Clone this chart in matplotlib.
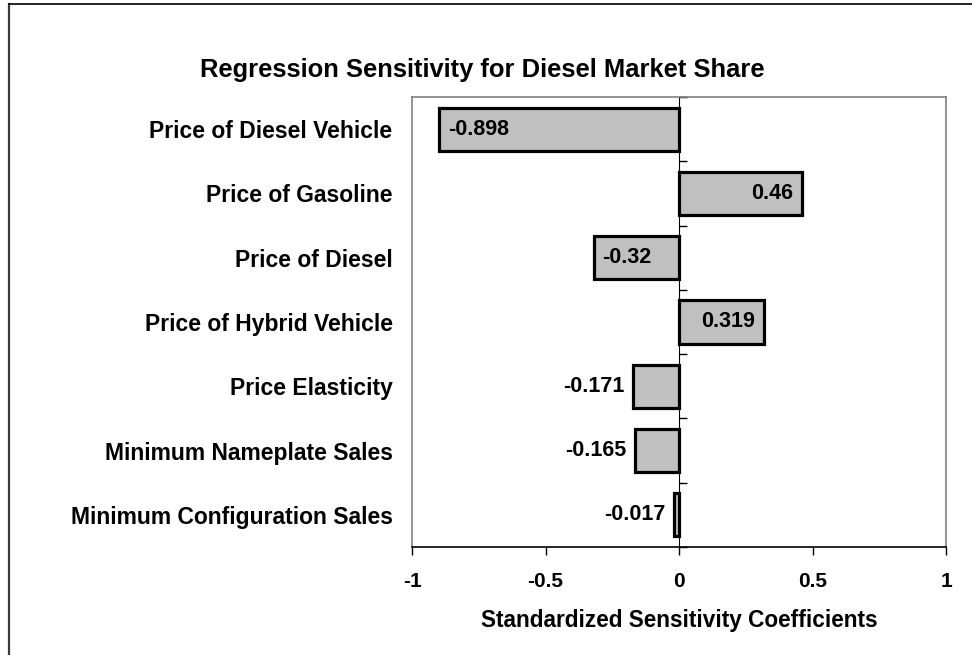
"""
Regression Sensitivity for Diesel Market Share - horizontal bar chart
"""

import matplotlib
matplotlib.use('Agg')
import matplotlib.pyplot as plt
import numpy as np
from matplotlib.lines import Line2D

# --- data ---
categories = [
    'Price of Diesel Vehicle',
    'Price of Gasoline',
    'Price of Diesel',
    'Price of Hybrid Vehicle',
    'Price Elasticity',
    'Minimum Nameplate Sales',
    'Minimum Configuration Sales',
]
coefficients = [-0.898, 0.46, -0.32, 0.319, -0.171, -0.165, -0.017]
value_labels = ['-0.898', '0.46', '-0.32', '0.319', '-0.171', '-0.165', '-0.017']
x_ticks = [-1, -0.5, 0, 0.5, 1]
x_tick_labels = ['-1', '-0.5', '0', '0.5', '1']

# --- style ---
BAR_FILL = '#C0C0C0'
FRAME = '#808080'
FONT = 'Liberation Sans'

plt.rcParams['font.family'] = [FONT, 'DejaVu Sans']
plt.rcParams['font.weight'] = 'bold'

W, H = 972, 655
fig = plt.figure(figsize=(W / 100, H / 100), dpi=100)
ax = fig.add_axes([412 / W, 1 - 547 / H, (946 - 412) / W, (547 - 97) / H])

y = np.arange(len(categories))
bars = ax.barh(y, coefficients, height=0.67, color=BAR_FILL,
               edgecolor='black', linewidth=2.3, zorder=3)

ax.set_xlim(-1, 1)
ax.set_ylim(len(categories) - 0.5, -0.5)

# x axis
ax.set_xticks(x_ticks)
ax.set_xticklabels(x_tick_labels, fontsize=15, fontweight='bold')
ax.tick_params(axis='x', direction='out', length=6, width=1, color='black', pad=12)
ax.set_xlabel('Standardized Sensitivity Coefficients', fontsize=16.3,
              fontweight='bold', labelpad=13)

# y axis (labels at the left edge)
ax.set_yticks(y)
ax.set_yticklabels(categories, fontsize=16.5, fontweight='bold')
ax.tick_params(axis='y', length=0, pad=14)

for side in ['top', 'right', 'left']:
    ax.spines[side].set_color(FRAME)
    ax.spines[side].set_linewidth(1.2)
ax.spines['bottom'].set_color('black')
ax.spines['bottom'].set_linewidth(1.2)

# zero line with category-boundary ticks
sec = ax.secondary_yaxis(0.5)
sec.set_yticks(np.arange(len(categories) + 1) - 0.5)
sec.set_yticklabels([])
sec.tick_params(axis='y', direction='out', length=6, width=1, color='black')
sec.spines['left'].set_color('black')
sec.spines['left'].set_linewidth(1.2)
sec.spines['left'].set_zorder(4)

# value labels
for b, v, lab in zip(bars, coefficients, value_labels):
    yc = b.get_y() + b.get_height() / 2
    inside = abs(v) > 0.3
    if v < 0:
        ha = 'left' if inside else 'right'
        off = 9 if inside else -9
    else:
        ha = 'right'
        off = -9
    ax.annotate(lab, (v, yc), xytext=(off, 0), textcoords='offset pixels',
                ha=ha, va='center', fontsize=15.5, fontweight='bold', zorder=5)

fig.text(482 / W, 1 - 70 / H,
         'Regression Sensitivity for Diesel Market Share',
         ha='center', va='center', fontsize=18.4, fontweight='bold')

# outer chart border (left and top edges visible)
fig.add_artist(Line2D([9 / W, 9 / W], [0, 1 - 4 / H], color='#3A3A3A', linewidth=1.6))
fig.add_artist(Line2D([9 / W, 1], [1 - 4 / H, 1 - 4 / H], color='black', linewidth=1.2))

fig.savefig('out.png', dpi=100)
